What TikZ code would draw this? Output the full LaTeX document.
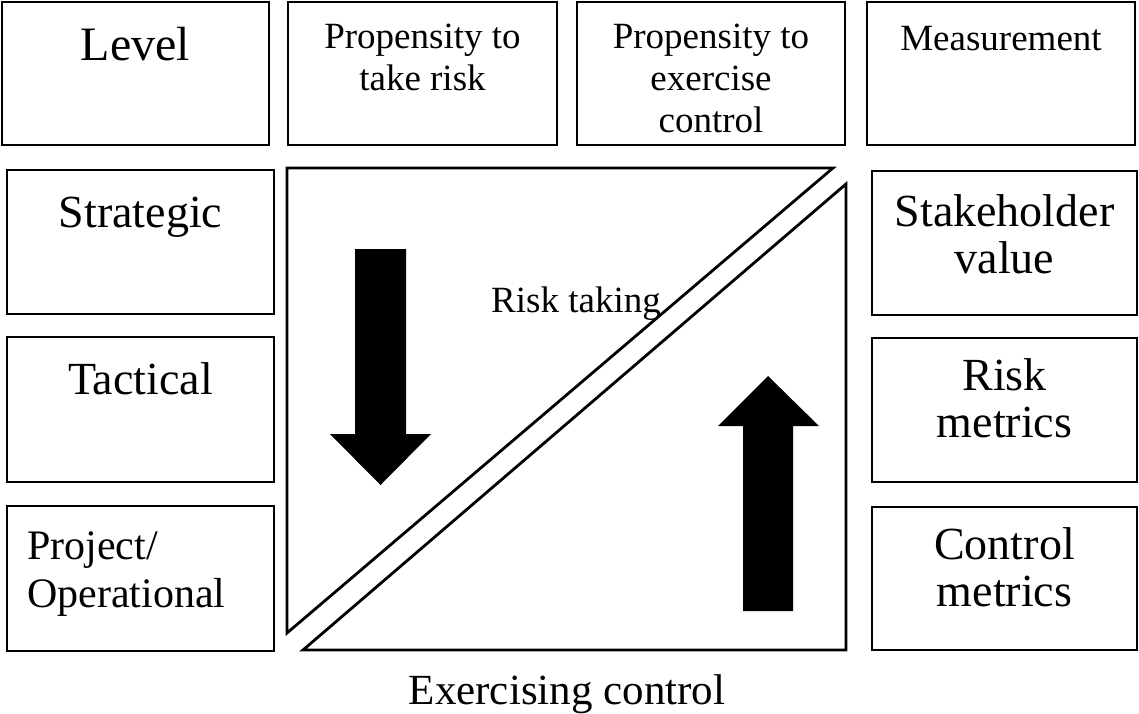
\documentclass[tikz,border=0pt]{standalone}
\usepackage{fontspec}
\setmainfont{Liberation Serif}
\begin{document}
\begin{tikzpicture}[x=1pt,y=-1pt,
  box/.style={draw=black,line width=2.8pt,fill=white},
  tri/.style={draw=black,line width=2.8pt,line join=miter},
  blk/.style={fill=black,draw=none},
  big/.style={font=\fontsize{46}{47}\selectfont,align=center,anchor=base,inner sep=0pt},
  mid/.style={font=\fontsize{37}{42}\selectfont,align=center,anchor=base,inner sep=0pt},
  pro/.style={font=\fontsize{42}{48}\selectfont,align=left,anchor=base west,inner sep=0pt}]
\useasboundingbox (0,0) rectangle (1139,713);
% top row
\draw[box] (2,2) rectangle (269,145);
\node[big,font=\fontsize{48}{48}\selectfont] (level) at (135.5,60) {Level};
\draw[box] (288,2) rectangle (557,145);
\node[mid] (ptr) at (422.5,90) {Propensity to\\take risk};
\draw[box] (577,2) rectangle (845,145);
\node[mid] (pec) at (711,132) {Propensity to\\exercise\\control};
\draw[box] (867,2) rectangle (1135,145);
\node[mid] (meas) at (1001,50) {Measurement};
% left column
\draw[box] (7,170) rectangle (274,314);
\node[big] (strat) at (140.5,227) {Strategic};
\draw[box] (7,337) rectangle (274,482);
\node[big] (tact) at (140.5,394) {Tactical};
\draw[box] (7,506) rectangle (274,651);
\node[pro] (proj) at (27,607) {Project/\\Operational};
% right column
\draw[box] (872,171) rectangle (1137,315);
\node[big] (stake) at (1004.5,273) {Stakeholder\\value};
\draw[box] (872,338) rectangle (1137,482);
\node[big] (riskm) at (1004.5,437) {Risk\\metrics};
\draw[box] (872,507) rectangle (1137,650);
\node[big] (ctrlm) at (1004.5,606) {Control\\metrics};
% triangles
\draw[tri] (287,168) -- (833,168) -- (287,633) -- cycle;
\draw[tri] (846,184) -- (846,650) -- (303,650) -- cycle;
% arrows
\fill[blk] (355,249) -- (406,249) -- (406,434) -- (431,434) -- (380.5,485) -- (330,434) -- (355,434) -- cycle;
\fill[blk] (743,611) -- (793,611) -- (793,426) -- (819,426) -- (768,376) -- (718,426) -- (743,426) -- cycle;
% labels
\node[mid] (risktaking) at (576,312) {Risk taking};
\node[mid,font=\fontsize{43}{43}\selectfont] (exctrl) at (567,704) {Exercising control};
\end{tikzpicture}
\end{document}
